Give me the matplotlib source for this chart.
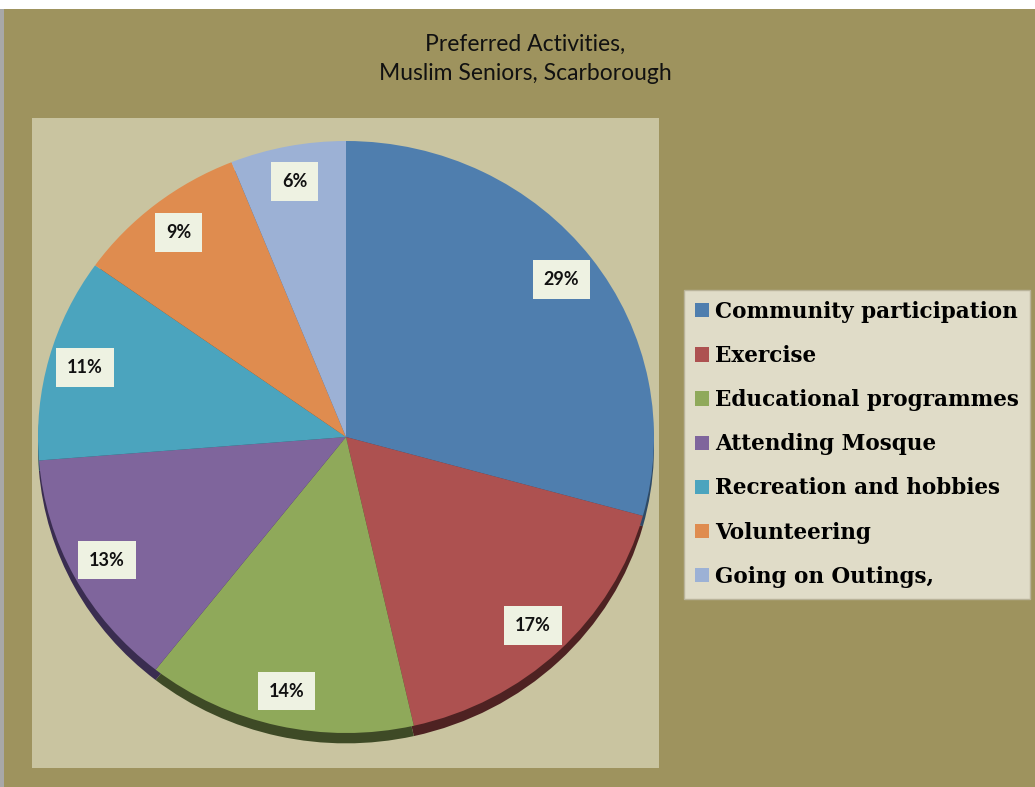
import matplotlib.pyplot as plt
from matplotlib.patches import Rectangle

# Данные
labels = ['Community participation', 'Exercise', 'Educational programmes',
          'Attending Mosque', 'Recreation and hobbies', 'Volunteering',
          'Going on Outings,']
values = [29, 17, 14, 13, 11, 9, 6]
colors = ['#4F7EAE', '#AD5150', '#8FA95A', '#7F659C', '#4BA4BE', '#DF8C4F', '#9CB1D5']
shadow_colors = ['#2E4A66', '#4E2222', '#3E4A26', '#3A2D50', '#24505E', '#6A4222', '#4A5670']

W, H = 1035, 787
fig = plt.figure(figsize=(W / 100, H / 100), dpi=100)
fig.patch.set_facecolor('white')

# фон: рамка, оливковая область, область диаграммы
bg = fig.add_axes([0, 0, 1, 1], zorder=0)
bg.set_xlim(0, W)
bg.set_ylim(H, 0)
bg.axis('off')
bg.add_patch(Rectangle((4, 9), W - 4, H - 9, facecolor='#9E935E', edgecolor='none'))
bg.add_patch(Rectangle((0, 9), 4, H - 9, facecolor='#A8A8A8', edgecolor='none'))
bg.add_patch(Rectangle((32, 118), 627, 650, facecolor='#C9C4A0', edgecolor='none'))

bg.text(525, 44, 'Preferred Activities,', ha='center', va='center',
        fontsize=16.5, family='Lato', color='#111111')
bg.text(525, 74, 'Muslim Seniors, Scarborough', ha='center', va='center',
        fontsize=16.5, family='Lato', color='#111111')

# круговая диаграмма
ax = fig.add_axes([38 / W, (H - 733) / H, 616 / W, 592 / H], zorder=2)
ax.axis('off')

sh, _ = ax.pie(values, colors=shadow_colors, startangle=90, counterclock=False,
               center=(0, -0.035), radius=1, wedgeprops=dict(linewidth=0))
for w in sh:
    w.set_clip_on(False)

wedges, texts, autotexts = ax.pie(values, colors=colors, startangle=90, counterclock=False,
                                  radius=1, autopct='%1.0f%%',
                                  pctdistance=0.88, wedgeprops=dict(linewidth=0))
ax.set_aspect('auto')
ax.set_xlim(-1, 1)
ax.set_ylim(-1, 1)
for w in wedges:
    w.set_clip_on(False)
for t, v in zip(autotexts, values):
    t.set_text('%d%%' % v)
    t.set_fontsize(13)
    t.set_fontweight('bold')
    t.set_family('Lato')
    t.set_color('#111111')
    t.set_bbox(dict(boxstyle='square,pad=0.6', facecolor='#EEF2E2', edgecolor='none'))

# легенда
leg = fig.legend(wedges, labels, loc='upper left', bbox_to_anchor=(684 / W, 1 - 290 / H),
                 borderaxespad=0, frameon=True, fancybox=False,
                 handlelength=0.65, handleheight=0.65, handletextpad=0.3,
                 labelspacing=1.03, borderpad=0.5,
                 prop=dict(family='DejaVu Serif', weight='bold', size=15.5))
leg.set_zorder(3)
leg.get_frame().set_facecolor('#E0DCC8')
leg.get_frame().set_edgecolor('#B9B39A')
leg.get_frame().set_alpha(1)

fig.savefig('out.png', dpi=100, facecolor=fig.get_facecolor())
